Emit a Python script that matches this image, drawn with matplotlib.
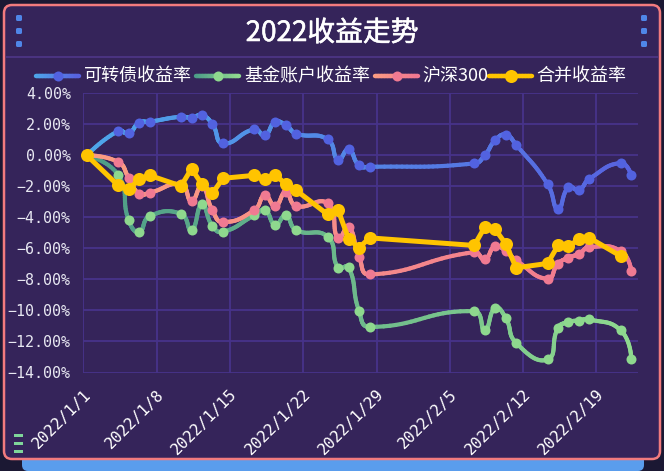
import matplotlib
matplotlib.use("Agg")
import matplotlib.pyplot as plt
import matplotlib.patches as mpatches
import matplotlib.transforms as mtransforms
import matplotlib.patheffects as pe
from matplotlib.collections import LineCollection
import matplotlib.colors as mcolors
import numpy as np
import datetime as dt

plt.rcParams['font.family'] = ['Noto Sans CJK SC', 'DejaVu Sans']

# ---------------- data ----------------
dates = ["2022-01-01",
         "2022-01-04", "2022-01-05", "2022-01-06", "2022-01-07",
         "2022-01-10", "2022-01-11", "2022-01-12", "2022-01-13", "2022-01-14",
         "2022-01-17", "2022-01-18", "2022-01-19", "2022-01-20", "2022-01-21",
         "2022-01-24", "2022-01-25", "2022-01-26", "2022-01-27", "2022-01-28",
         "2022-02-07", "2022-02-08", "2022-02-09", "2022-02-10", "2022-02-11",
         "2022-02-14", "2022-02-15", "2022-02-16", "2022-02-17", "2022-02-18",
         "2022-02-21", "2022-02-22"]

cb_rate = [0.00, 1.57, 1.42, 2.10, 2.17, 2.49, 2.43, 2.58, 2.00, 0.77,
           1.68, 1.29, 2.15, 1.94, 1.40, 1.03, -0.30, 0.39, -0.65, -0.74,
           -0.52, 0.00, 0.97, 1.33, 0.68, -1.85, -3.48, -2.05, -2.22, -1.51,
           -0.50, -1.29]
fund_rate = [0.00, -1.27, -4.19, -4.95, -3.92, -3.77, -4.84, -3.16, -4.56, -4.93,
             -3.87, -3.53, -4.48, -3.87, -4.82, -5.25, -7.25, -7.21, -10.05, -11.06,
             -10.05, -11.29, -9.83, -10.48, -12.09, -13.16, -11.12, -10.75, -10.65, -10.58,
             -11.29, -13.10]
hs300 = [0.00, -0.43, -1.44, -2.48, -2.41, -1.87, -2.95, -1.95, -3.55, -4.30,
         -3.53, -2.58, -3.27, -2.37, -3.27, -3.10, -5.35, -4.63, -6.54, -7.68,
         -6.24, -6.71, -5.85, -6.17, -6.77, -7.96, -6.99, -6.60, -6.35, -5.92,
         -6.17, -7.46]
total_rate = [0.00, -1.94, -2.19, -1.55, -1.29, -1.98, -0.86, -1.87, -2.45, -1.48,
              -1.29, -1.51, -1.25, -1.87, -2.26, -3.81, -3.53, -5.38, -5.96, -5.32,
              -5.81, -4.63, -4.77, -5.70, -7.25, -6.97, -5.81, -5.85, -5.42, -5.32,
              -6.50, None]

series_names = ["可转债收益率", "基金账户收益率", "沪深300", "合并收益率"]
tick_labels = ["2022/1/1", "2022/1/8", "2022/1/15", "2022/1/22",
               "2022/1/29", "2022/2/5", "2022/2/12", "2022/2/19"]
title_text = "2022收益走势"

# ---------------- geometry helpers ----------------
W, H = 664, 471
fig = plt.figure(figsize=(W / 100, H / 100), dpi=100)
fig.patch.set_facecolor('#1b1833')
ident = mtransforms.IdentityTransform()


def px(x, y):
    return x, H - y


# bottom blue strip
fig.add_artist(mpatches.FancyBboxPatch(px(22, 471), 622, 16,
               boxstyle="round,pad=0,rounding_size=6", transform=ident,
               facecolor='#5a9ded', edgecolor='none', zorder=0))
# main frame
fig.add_artist(mpatches.FancyBboxPatch(px(4, 459), 656, 454,
               boxstyle="round,pad=0,rounding_size=8", transform=ident,
               facecolor='#35245a', edgecolor='#f27b7e', linewidth=1.8, zorder=1))
# separator below title
fig.add_artist(mpatches.Rectangle(px(6, 58), 652, 2.5, transform=ident,
               facecolor='#4a3380', edgecolor='none', zorder=2))
# decorative squares
for yy in (15, 28, 41):
    for xx in (16, 641):
        fig.add_artist(mpatches.FancyBboxPatch(px(xx, yy + 6), 6, 6,
                       boxstyle="round,pad=0,rounding_size=1.5", transform=ident,
                       facecolor='#4f86e8', edgecolor='none', zorder=3))
for yy in (435, 443, 451):
    fig.add_artist(mpatches.Rectangle(px(14, yy + 1.5), 9, 3, transform=ident,
                   facecolor='#7fd69a', edgecolor='none', zorder=3))

fig.text(332 / W, 1 - 33 / H, title_text, ha='center', va='center',
         color='white', fontsize=20, fontweight='normal', zorder=5,
         path_effects=[pe.withStroke(linewidth=0.4, foreground='white')])

# ---------------- axes ----------------
left, right, top, bottom = 83.3, 638.3, 93.3, 372.5
ax = fig.add_axes([left / W, 1 - bottom / H, (right - left) / W, (bottom - top) / H])
ax.set_facecolor('none')
ax.set_zorder(4)

d0 = dt.date(2022, 1, 1)
xd = np.array([(dt.date.fromisoformat(s) - d0).days for s in dates], dtype=float)
off = 1.0 / 3.0
ax.set_xlim(-off, 53 - off)
ax.set_ylim(-14, 4)

SX = (right - left) / 53.0
SY = (bottom - top) / 18.0

grid_c = '#47338a'
for v in np.arange(-14, 5, 2):
    ax.axhline(v, color=grid_c, lw=1.3, zorder=0)
xt = [7 * k - off for k in range(8)]
for v in xt:
    ax.axvline(v, color=grid_c, lw=1.3, zorder=0)
for s in ax.spines.values():
    s.set_visible(False)

mono = 'DejaVu Sans Mono'
ax.set_xticks(xt)
ax.set_xticklabels(tick_labels, rotation=45, ha='right', va='center',
                   rotation_mode='anchor', color='white', fontsize=11.3,
                   family=mono)
yt = np.arange(-14, 5, 2)
ax.set_yticks(yt)
ax.set_yticklabels([f"{v:.2f}%".replace('-', '\u2212') for v in yt],
                   color='#e8e8f2', fontsize=10.8, family=mono)
ax.tick_params(axis='both', length=0)
ax.tick_params(axis='x', pad=14)
ax.tick_params(axis='y', pad=9)
shift = mtransforms.ScaledTranslation(0.05, 0, fig.dpi_scale_trans)
for lab in ax.get_xticklabels():
    lab.set_transform(lab.get_transform() + shift)


def smooth_path(xs, ys, smooth=0.5):
    P = np.column_stack([np.asarray(xs) * SX, np.asarray(ys) * SY])
    n = len(P)
    pts = [P[0]]
    cp0 = P[0]
    t = np.linspace(0, 1, 20)[1:]
    for i in range(1, n):
        p = P[i]
        if i < n - 1:
            pv, nx = P[i - 1], P[i + 1]
            v = nx - pv
            l0 = np.hypot(*(p - pv))
            l1 = np.hypot(*(nx - p))
            r = l1 / (l0 + l1) if (l0 + l1) > 0 else 0.5
            ncp0 = p - v * smooth * (1 - r)
            cp1 = p + v * smooth * r
        else:
            ncp0 = p
            cp1 = p
        a = P[i - 1]
        for tt in t:
            q = ((1 - tt) ** 3) * a + 3 * ((1 - tt) ** 2) * tt * cp0 + \
                3 * (1 - tt) * tt ** 2 * ncp0 + tt ** 3 * p
            pts.append(q)
        cp0 = cp1
    pts = np.array(pts)
    return pts[:, 0] / SX, pts[:, 1] / SY


def gradient_line(xs, ys, c0, c1, lw, z):
    xs = np.asarray(xs)
    ys = np.asarray(ys)
    segs = np.stack([np.column_stack([xs[:-1], ys[:-1]]),
                     np.column_stack([xs[1:], ys[1:]])], axis=1)
    xm = 0.5 * (xs[:-1] + xs[1:])
    f = (xm - xs.min()) / (xs.max() - xs.min())
    a = np.array(mcolors.to_rgb(c0))
    b = np.array(mcolors.to_rgb(c1))
    cols = a[None, :] * (1 - f[:, None]) + b[None, :] * f[:, None]
    lc = LineCollection(segs, colors=cols, linewidths=lw, capstyle='round',
                        joinstyle='round', zorder=z)
    ax.add_collection(lc)


styles = [
    dict(vals=cb_rate, c0='#4ea6ea', c1='#5863e0', mc='#5262e0', smooth=True, lw=3.0, ms=7.2),
    dict(vals=fund_rate, c0='#4c9c88', c1='#8fd98f', mc='#8ed88e', smooth=True, lw=3.0, ms=7.2),
    dict(vals=hs300, c0='#fb9d82', c1='#f07891', mc='#f07a92', smooth=True, lw=3.0, ms=7.2),
    dict(vals=total_rate, c0='#ffc400', c1='#ffc400', mc='#ffc400', smooth=False, lw=3.6, ms=9.4),
]

for k, st in enumerate(styles):
    vals = st['vals']
    mask = np.array([v is not None for v in vals])
    xs = xd[mask]
    ys = np.array([v for v in vals if v is not None], dtype=float)
    if st['smooth']:
        sx, sy = smooth_path(xs, ys)
    else:
        sx, sy = xs, ys
    gradient_line(sx, sy, st['c0'], st['c1'], st['lw'], 3 + k * 2)
    ax.plot(xs, ys, 'o', ms=st['ms'], color=st['mc'], mec='none', zorder=4 + k * 2,
            clip_on=False)

# ---------------- legend (manual) ----------------
leg_y = 76
leg_items = [(36, 84), (196, 244), (375, 422), (489, 536)]
lax = fig.add_axes([0, 0, 1, 1])
lax.set_xlim(0, W)
lax.set_ylim(H, 0)
lax.axis('off')
lax.set_zorder(6)
for (x0, tx), st, name in zip(leg_items, styles, series_names):
    xs = np.linspace(x0, x0 + 43, 30)
    ys = np.full_like(xs, leg_y)
    segs = np.stack([np.column_stack([xs[:-1], ys[:-1]]),
                     np.column_stack([xs[1:], ys[1:]])], axis=1)
    f = np.linspace(0, 1, len(segs))
    a = np.array(mcolors.to_rgb(st['c0']))
    b = np.array(mcolors.to_rgb(st['c1']))
    cols = a[None, :] * (1 - f[:, None]) + b[None, :] * f[:, None]
    lax.add_collection(LineCollection(segs, colors=cols, linewidths=3.2,
                                      capstyle='round'))
    lax.plot([x0 + 21.5], [leg_y], 'o', ms=st['ms'], color=st['mc'], mec='none')
    lax.text(tx, leg_y, name, ha='left', va='center', color='white', fontsize=13)

fig.savefig("out.png", dpi=100, facecolor=fig.get_facecolor())
